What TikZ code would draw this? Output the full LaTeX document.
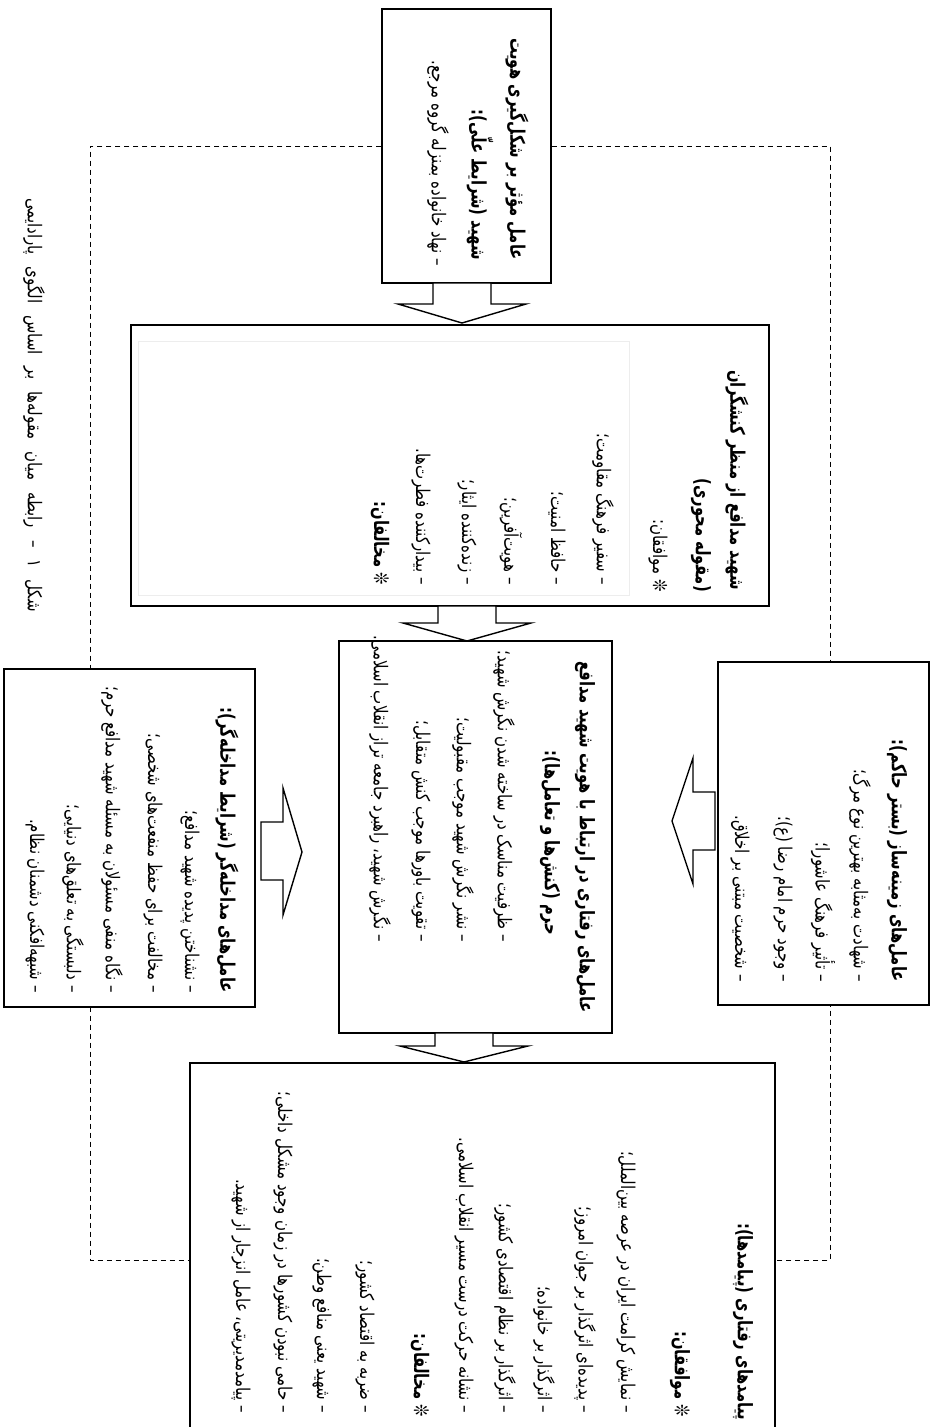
\documentclass[tikz,border=0pt]{standalone}
\usepackage{fontspec}
\newfontfamily\fa[Script=Arabic, FakeStretch=0.79]{DejaVu Sans}
\newfontfamily\fab[Script=Arabic, FakeStretch=0.74]{DejaVu Sans Bold}
\TeXXeTstate=1
\newcommand{\rl}[1]{\beginR #1\endR}
\begin{document}
\begin{tikzpicture}[x=1pt,y=-1pt,
  box/.style={draw=black, line width=1.4pt, fill=white, inner sep=0pt},
  txt/.style={rotate=-90, inner sep=0pt, anchor=east, font=\fa\fontsize{19}{22}\selectfont},
  hd/.style={txt, font=\fab\fontsize{20}{23}\selectfont},
  dashline/.style={draw=black, line width=1pt, dash pattern=on 5.5pt off 3.5pt},
  blockarrow/.style={draw=black, line width=1.4pt, fill=white, line join=miter}]
\useasboundingbox (0,0) rectangle (937,1427);
% coordinates for dashed feedback loop
\coordinate (dlb) at (90,1260);
\coordinate (drb) at (830,1260);
% boxes
\node[box, minimum width=169pt, minimum height=274pt] (top) at (466.5,146) {};
\node[box, minimum width=638pt, minimum height=281pt] (core) at (450,465.5) {};
\node[box, minimum width=273pt, minimum height=392pt] (mid) at (475.5,837) {};
\node[box, minimum width=585pt, minimum height=377pt] (bot) at (482.5,1251.5) {};
% dashed loop
\draw[dashline] (top.west) -| (dlb) -- (bot.west |- dlb);
\draw[dashline] (top.east) -| (drb) -- (bot.east |- drb);
% side boxes on top of the dashed line
\node[box, minimum width=251pt, minimum height=338pt] (left) at (129.5,838) {};
\node[box, minimum width=211pt, minimum height=343pt] (right) at (823.5,833.5) {};
% faint inner frame in core box
\node[draw=black!7, line width=0.6pt, minimum width=491pt, minimum height=254pt, inner sep=0pt] (coreframe) at (383.5,468) {};

% top box text
\node[hd] (t1) at (517,260) {\rl{عامل مؤثر بر شکل‌گیری هویت}};
\node[hd] (t2) at (480,260) {\rl{شهید (شرایط علّی):}};
\node[txt] (t3) at (438,266) {\rl{– نهاد خانواده بمنزله گروه مرجع.}};

% core box text
\node[hd] (c1) at (737,590) {\rl{شهید مدافع از منظر کنشگران}};
\node[hd] (c2) at (701,592) {\rl{(مقوله محوری)}};
\node[txt] (c3) at (658,592) {\rl{❊ موافقان:}};
\node[txt] (c4) at (603,585) {\rl{– سفیر فرهنگ مقاومت؛}};
\node[txt] (c5) at (557,585) {\rl{– حافظ امنیت؛}};
\node[txt] (c6) at (511,585) {\rl{– هویت‌آفرین؛}};
\node[txt] (c7) at (467,585) {\rl{– زنده‌کننده ایثار؛}};
\node[txt] (c8) at (421,585) {\rl{– بیدارکننده فطرت‌ها.}};
\node[hd] (c9) at (380,585) {\rl{❊ مخالفان:}};

% middle box text
\node[hd, anchor=center] (m1) at (585,837) {\rl{عامل‌های رفتاری در ارتباط با هویت شهید مدافع}};
\node[hd] (m2) at (550,935) {\rl{حرم (کنش‌ها و تعامل‌ها):}};
\node[txt] (m3) at (504,942) {\rl{– ظرفیت مناسک در ساخته شدن نگرش شهید؛}};
\node[txt] (m4) at (463,942) {\rl{– نشر نگرش شهید موجب مقبولیت؛}};
\node[txt] (m5) at (421,942) {\rl{– تقویت باورها موجب کنش متقابل؛}};
\node[txt] (m6) at (380,942) {\rl{– نگرش شهید، راهبرد جامعه تراز انقلاب اسلامی.}};

% left box text
\node[hd] (l1) at (227,993) {\rl{عامل‌های مداخله‌گر (شرایط مداخله‌گر):}};
\node[txt] (l2) at (190,993) {\rl{– نشناختن پدیده شهید مدافع؛}};
\node[txt] (l3) at (153,993) {\rl{– مخالفت برای حفظ منفعت‌های شخصی؛}};
\node[txt] (l4) at (112,993) {\rl{– نگاه منفی مسئولان به مسئله شهید مدافع حرم؛}};
\node[txt] (l5) at (73,993) {\rl{– دلبستگی به تعلق‌های دنیایی؛}};
\node[txt] (l6) at (35,993) {\rl{– شبهه‌افکنی دشمنان نظام.}};

% right box text
\node[hd] (r1) at (897,982) {\rl{عامل‌های زمینه‌ساز (بستر حاکم):}};
\node[txt] (r2) at (860,982) {\rl{– شهادت به‌مثابه بهترین نوع مرگ؛}};
\node[txt] (r3) at (823,982) {\rl{– تأثیر فرهنگ عاشورا؛}};
\node[txt] (r4) at (783,982) {\rl{– وجود حرم امام رضا (ع)؛}};
\node[txt] (r5) at (740,982) {\rl{– شخصیت مبتنی بر اخلاق.}};

% bottom box text
\node[hd] (p1) at (743,1420) {\rl{پیامدهای رفتاری (پیامدها):}};
\node[hd] (p2) at (680,1417) {\rl{❊ موافقان:}};
\node[txt] (p3) at (626,1413) {\rl{– نمایش کرامت ایران در عرصه بین‌الملل؛}};
\node[txt] (p4) at (585,1413) {\rl{– پدیده‌ای اثرگذار بر جوان امروز؛}};
\node[txt] (p5) at (544,1413) {\rl{– اثرگذار بر خانواده؛}};
\node[txt] (p6) at (505,1413) {\rl{– اثرگذار بر نظام اقتصادی کشور؛}};
\node[txt] (p7) at (464,1413) {\rl{– نشانه حرکت درست مسیر انقلاب اسلامی.}};
\node[hd] (p8) at (420,1417) {\rl{❊ مخالفان:}};
\node[txt] (p9) at (365,1413) {\rl{– ضربه به اقتصاد کشور؛}};
\node[txt] (p10) at (322,1413) {\rl{– شهید یعنی منافع وطن؛}};
\node[txt] (p11) at (283,1413) {\rl{– حامی نبودن کشورها در زمان وجود مشکل داخلی؛}};
\node[txt] (p12) at (241,1413) {\rl{– پیامدمدیریتی، عامل انزجار از شهید.}};

% caption
\node[txt] (cap) at (34,612) {\spaceskip=12pt\relax\rl{شکل ۱ – رابطه میان مقوله‌ها بر اساس الگوی پارادایمی}};

% block arrows
\draw[blockarrow] (433,283) -- (433,304) -- (398,304) -- (462,323) -- (526,304) -- (491,304) -- (491,283) -- cycle;
\draw[blockarrow] (438,606) -- (438,623) -- (403,623) -- (467,641) -- (531,623) -- (496,623) -- (496,606) -- cycle;
\draw[blockarrow] (435,1033) -- (435,1046) -- (400,1046) -- (464,1062) -- (528,1046) -- (493,1046) -- (493,1033) -- cycle;
\draw[blockarrow] (261,822) -- (283,822) -- (283,788) -- (302,852) -- (283,915) -- (283,880) -- (261,880) -- cycle;
\draw[blockarrow] (715,792) -- (693,792) -- (693,758) -- (672,821) -- (693,884) -- (693,850) -- (715,850) -- cycle;
\end{tikzpicture}
\end{document}
